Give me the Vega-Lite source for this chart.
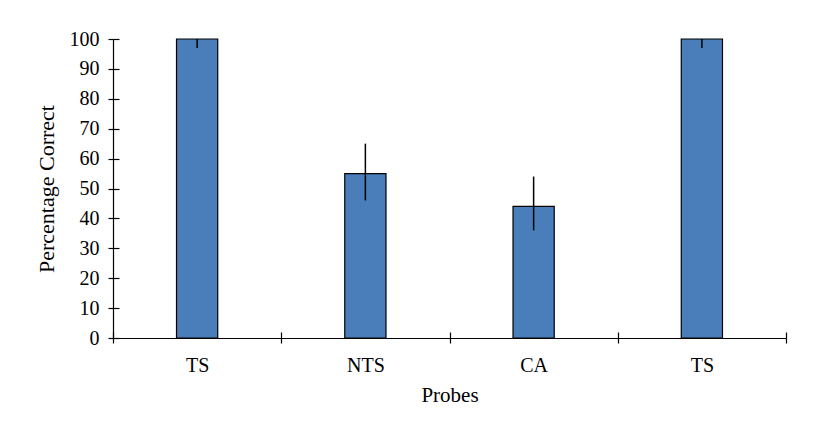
{
  "$schema": "https://vega.github.io/schema/vega-lite/v6.json",
  "autosize": "none",
  "width": 673,
  "height": 299,
  "padding": {"left": 113, "top": 39, "right": 31, "bottom": 91},
  "background": "white",
  "config": {
    "view": {"stroke": null},
    "font": "Liberation Serif",
    "axis": {"labelFont": "Liberation Serif", "titleFont": "Liberation Serif", "labelColor": "#000", "titleColor": "#000", "domainColor": "#000", "tickColor": "#000", "grid": false, "titleFontWeight": "normal", "domainWidth": 1.2, "tickWidth": 1.2}
  },
  "data": {"values": [
    {"probe": "TS1", "value": 100, "low": 97, "high": 100},
    {"probe": "NTS", "value": 55, "low": 46, "high": 65},
    {"probe": "CA", "value": 44, "low": 36, "high": 54},
    {"probe": "TS2", "value": 100, "low": 97, "high": 100}
  ]},
  "resolve": {"axis": {"x": "independent", "y": "independent"}},
  "layer": [
    {
      "mark": {"type": "bar", "color": "#4a7ebb", "stroke": "#000", "strokeWidth": 1.2, "width": {"band": 0.245}},
      "encoding": {
        "x": {"field": "probe", "type": "nominal", "sort": ["TS1", "NTS", "CA", "TS2"],
              "scale": {"paddingInner": 0, "paddingOuter": 0},
              "axis": {"orient": "bottom", "title": "Probes", "labelAngle": 0, "tickBand": "extent", "tickSize": 5,
                       "labelExpr": "replace(datum.label, /[0-9]/, '')", "labelFontSize": 20, "titleFontSize": 21,
                       "labelPadding": 12, "titlePadding": 9}},
        "y": {"field": "value", "type": "quantitative", "scale": {"domain": [0, 100], "nice": false},
              "axis": {"orient": "left", "title": "Percentage Correct", "values": [0,10,20,30,40,50,60,70,80,90,100], "tickSize": 5,
                       "labelFontSize": 20, "titleFontSize": 22, "labelPadding": 9, "titlePadding": 11}}
      }
    },
    {
      "mark": {"type": "rule", "color": "#000", "strokeWidth": 1.5},
      "encoding": {
        "x": {"field": "probe", "type": "nominal", "sort": ["TS1", "NTS", "CA", "TS2"],
              "axis": {"orient": "bottom", "title": null, "labels": false, "domain": false, "tickBand": "extent", "tickSize": -6}},
        "y": {"field": "low", "type": "quantitative",
              "axis": {"orient": "left", "title": null, "labels": false, "domain": false, "values": [0,10,20,30,40,50,60,70,80,90,100], "tickSize": -6}},
        "y2": {"field": "high"}
      }
    }
  ]
}
